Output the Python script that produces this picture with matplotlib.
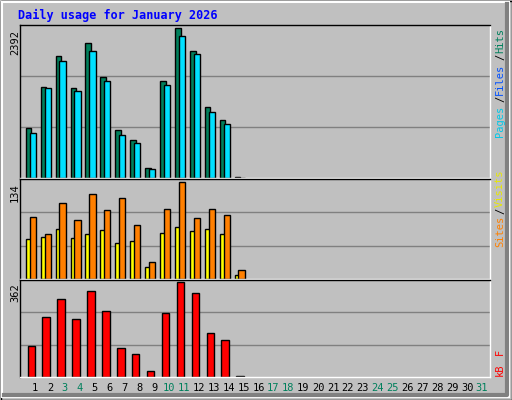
import matplotlib
matplotlib.use("Agg")
import matplotlib.pyplot as plt
from matplotlib.patches import Rectangle

days = list(range(1, 32))
hits = [792, 1450, 1950, 1433, 2149, 1611, 771, 609, 157, 1551, 2392, 2031, 1126, 932, 8]
files = [722, 1433, 1870, 1385, 2031, 1546, 690, 561, 141, 1482, 2258, 1983, 1046, 868, 0]
visits = [85, 62, 105, 82, 118, 95, 112, 75, 24, 97, 134, 84, 97, 88, 12]
sites = [55, 58, 69, 56, 62, 68, 50, 52, 16, 63, 72, 66, 69, 62, 6]
kbytes = [119, 227, 298, 219, 326, 251, 111, 88, 24, 243, 362, 318, 167, 139, 3]
weekend = [3, 4, 10, 11, 17, 18, 24, 25, 31]
max_hits, max_visits, max_kb = 2392, 134, 362

W, H = 512, 400
fig = plt.figure(figsize=(W/100, H/100), dpi=100)
fig.patch.set_facecolor('#C0C0C0')
MONO = 'DejaVu Sans Mono'

bg = fig.add_axes([0, 0, 1, 1]); bg.set_xlim(0, W); bg.set_ylim(H, 0); bg.axis('off')
bg.add_patch(Rectangle((0.5, 0.5), W-1, H-1, fill=False, ec='black', lw=1))
bg.add_patch(Rectangle((2, 2), W-5, H-5, fill=False, ec='white', lw=1.5))
bg.plot([W-5, W-5, 4], [4, H-5, H-5], color='#808080', lw=3)
bg.text(18, 15, 'Daily usage for January 2026', color='#0000FF', fontsize=8.5,
        fontweight='bold', family=MONO, va='center')

XL = 0.5 - 7.55/14.9

def px_axes(x0, y0, x1, y1):
    ax = fig.add_axes([x0/W, 1 - y1/H, (x1-x0)/W, (y1-y0)/H])
    ax.set_facecolor('#C0C0C0')
    ax.set_xlim(XL, 31.5)
    ax.set_xticks([]); ax.set_yticks([])
    for s in ax.spines.values():
        s.set_color('black'); s.set_linewidth(1)
    ax.spines['bottom'].set_color('white'); ax.spines['right'].set_color('white')
    return ax

def grid(ax, top):
    for f in (1/3, 2/3):
        ax.axhline(top*f, color='#808080', lw=1, zorder=0)

x = days[:len(hits)]
ax1 = px_axes(20, 25, 490, 178)
top1 = max_hits / 0.98
ax1.set_ylim(0, top1); grid(ax1, top1)
ax1.bar([d-0.62 for d in x], hits, width=0.38, align='edge', color='#00805C', ec='black', lw=1)
ax1.bar([d-0.36 for d in x], files, width=0.42, align='edge', color='#00E0FF', ec='black', lw=1)

ax2 = px_axes(20, 179, 490, 279)
top2 = max_visits / 0.97
ax2.set_ylim(0, top2); grid(ax2, top2)
ax2.bar([d-0.62 for d in x], sites, width=0.38, align='edge', color='#FFFF00', ec='black', lw=1)
ax2.bar([d-0.36 for d in x], visits, width=0.42, align='edge', color='#FF8000', ec='black', lw=1)

ax3 = px_axes(20, 280, 490, 377)
top3 = max_kb / 0.98
ax3.set_ylim(0, top3); grid(ax3, top3)
ax3.bar([d-0.5 for d in x], kbytes, width=0.5, align='edge', color='#FF0000', ec='black', lw=1)

for d in days:
    bg.text(35 + (d-1)*14.9, 388, str(d), ha='center', va='center', fontsize=7.5,
            family=MONO, color='#00805C' if d in weekend else 'black')

for y, lab in ((30, str(max_hits)), (183, str(max_visits)), (283, str(max_kb))):
    bg.text(15, y, lab, rotation=90, ha='center', va='top', fontsize=7.5, family=MONO)

def side(parts):
    for txt, col, yb in parts:
        bg.text(500, yb, txt, rotation=90, ha='center', va='bottom', fontsize=7.5,
                family=MONO, color=col)

side([('Pages', '#00C8E8', 137), ('/', 'black', 102), ('Files', '#0050FF', 95),
      ('/', 'black', 60), ('Hits', '#00805C', 53)])
side([('Sites', '#FF8000', 247), ('/', 'black', 214), ('Visits', '#E8E800', 207)])
side([('kB', '#FF0000', 376), ('F', '#FF0000', 355)])

fig.savefig('out.png', dpi=100, facecolor=fig.get_facecolor())
